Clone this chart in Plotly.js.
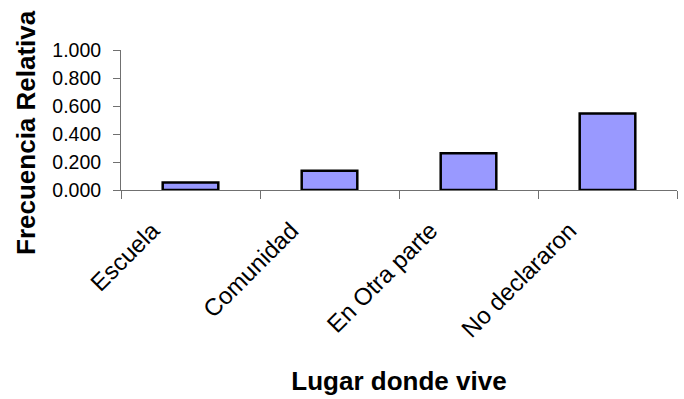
<!DOCTYPE html>
<html>
<head>
<meta charset="utf-8">
<script src="https://cdn.plot.ly/plotly-3.0.1.min.js"></script>
<style>html,body{margin:0;padding:0;background:#fff;}#chart{width:684px;height:399px;}</style>
</head>
<body>
<div id="chart"></div>
<script>
var categories = ["Escuela", "Comunidad", "En Otra parte", "No declararon"];
var frecuenciaRelativa = [0.054, 0.137, 0.263, 0.546];
var yTickValues = [0, 0.2, 0.4, 0.6, 0.8, 1.0];

var trace = {
  type: "bar",
  x: categories,
  y: frecuenciaRelativa,
  width: 0.4,
  marker: { color: "#9999FF", line: { color: "#000000", width: 2.5 } },
  hoverinfo: "x+y"
};

var layout = {
  width: 684,
  height: 399,
  margin: { l: 121, r: 7, t: 50, b: 209 },
  paper_bgcolor: "#ffffff",
  plot_bgcolor: "#ffffff",
  showlegend: false,
  font: { family: "Arial, 'Liberation Sans', sans-serif", color: "#000000" },
  xaxis: {
    type: "category",
    showline: true, linecolor: "#707070", linewidth: 1,
    ticks: "outside", ticklen: 8, tickcolor: "#707070", tickwidth: 1,
    tickson: "boundaries",
    tickangle: -45,
    tickfont: { size: 24, family: "Arial, 'Liberation Sans', sans-serif" },
    ticklabelstandoff: 16,
    ticklabelshift: -38,
    showgrid: false, zeroline: false,
    title: { text: "Lugar donde vive", font: { size: 26, family: "Arial, 'Liberation Sans', sans-serif", weight: "bold" }, standoff: 30 }
  },
  yaxis: {
    range: [0, 1],
    tickvals: yTickValues,
    tickformat: ".3f",
    showline: true, linecolor: "#707070", linewidth: 1,
    ticks: "outside", ticklen: 7, tickcolor: "#707070", tickwidth: 1,
    tickfont: { size: 19.5, family: "Arial, 'Liberation Sans', sans-serif" },
    ticklabelstandoff: 8,
    showgrid: false, zeroline: false,
    title: { text: "" }
  },
  annotations: [{
    text: "<b>Frecuencia Relativa</b>",
    xref: "paper", yref: "paper",
    x: -0.172, y: 0.41,
    xanchor: "center", yanchor: "middle",
    textangle: -90,
    showarrow: false,
    font: { size: 26, family: "Arial, 'Liberation Sans', sans-serif" }
  }]
};

Plotly.newPlot("chart", [trace], layout, { displayModeBar: false, staticPlot: true });
</script>
</body>
</html>
